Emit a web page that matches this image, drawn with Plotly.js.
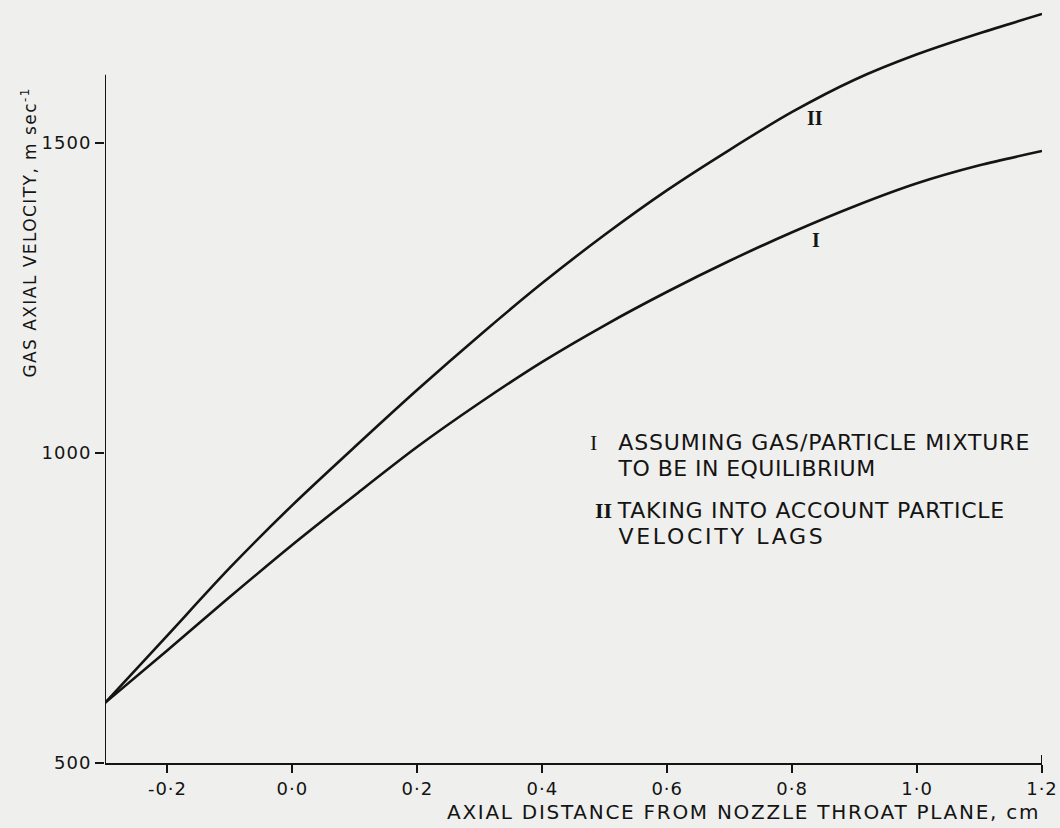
<!DOCTYPE html>
<html>
<head>
<meta charset="utf-8">
<script src="https://cdn.plot.ly/plotly-3.0.1.min.js"></script>
<style>html,body{margin:0;padding:0;background:#efefed;}#chart{width:1060px;height:828px;}</style>
</head>
<body>
<div id="chart"></div>
<script>
// Axial distance from nozzle throat plane, cm
const axialDistance = [-0.3, -0.2, -0.1, 0.0, 0.1, 0.2, 0.3, 0.4, 0.5, 0.6, 0.7, 0.8, 0.9, 1.0, 1.1, 1.2];
// Curve I: gas/particle mixture in equilibrium (m/s)
const velocityEquilibrium = [597, 682, 768, 852, 932, 1010, 1081, 1147, 1206, 1260, 1310, 1356, 1398, 1435, 1464, 1487];
// Curve II: taking into account particle velocity lags (m/s)
const velocityLag = [597, 706, 815, 916, 1010, 1102, 1190, 1274, 1352, 1424, 1489, 1550, 1602, 1643, 1677, 1708];

const xTickVals = [-0.2, 0.0, 0.2, 0.4, 0.6, 0.8, 1.0, 1.2];
const xTickText = ['-0·2', '0·0', '0·2', '0·4', '0·6', '0·8', '1·0', '1·2'];
const yTickVals = [500, 1000, 1500];
const yTickText = ['500', '1000', '1500'];

const curveLabels = ['I', 'II'];
const legendLines = [
  'ASSUMING GAS/PARTICLE MIXTURE',
  'TO BE IN EQUILIBRIUM',
  'TAKING INTO ACCOUNT PARTICLE',
  'VELOCITY LAGS'
];
const xTitle = 'AXIAL DISTANCE FROM NOZZLE THROAT PLANE, cm';
const yTitle = 'GAS AXIAL VELOCITY, m sec<sup>-1</sup>';

const ink = '#141414';
const font = 'DejaVu Sans, Liberation Sans, sans-serif';
const serif = 'Liberation Serif, DejaVu Serif, serif';

const traces = [
  {x: axialDistance, y: velocityEquilibrium, mode: 'lines', line: {color: ink, width: 2.6, shape: 'spline', smoothing: 0.8}, hoverinfo: 'skip'},
  {x: axialDistance, y: velocityLag, mode: 'lines', line: {color: ink, width: 2.6, shape: 'spline', smoothing: 0.8}, hoverinfo: 'skip'}
];

// annotations; 'w' = target rendered width (px) used to set letter spacing
const ann = [
  {xref: 'paper', yref: 'paper', x: 0.6814, y: -0.0642, text: xTitle, font: {family: font, size: 20, color: ink}, w: 593},
  {xref: 'paper', yref: 'paper', x: -0.081, y: 0.6946, textangle: -90, text: yTitle, font: {family: font, size: 17, color: ink}, w: 293},
  {xref: 'x', yref: 'y', x: 0.837, y: 1540, text: '<b>' + curveLabels[1] + '</b>', font: {family: serif, size: 20, color: ink}},
  {xref: 'x', yref: 'y', x: 0.838, y: 1343, text: '<b>' + curveLabels[0] + '</b>', font: {family: serif, size: 20, color: ink}},
  {xref: 'paper', yref: 'paper', x: 0.521, y: 0.4194, text: curveLabels[0], font: {family: serif, size: 22, color: ink}},
  {xref: 'paper', yref: 'paper', x: 0.7673, y: 0.4194, text: legendLines[0], font: {family: font, size: 22, color: ink}, w: 412},
  {xref: 'paper', yref: 'paper', x: 0.6846, y: 0.3866, text: legendLines[1], font: {family: font, size: 22, color: ink}, w: 257},
  {xref: 'paper', yref: 'paper', x: 0.5325, y: 0.3303, text: '<b>' + curveLabels[1] + '</b>', font: {family: serif, size: 22, color: ink}},
  {xref: 'paper', yref: 'paper', x: 0.754, y: 0.3303, text: legendLines[2], font: {family: font, size: 22, color: ink}, w: 387},
  {xref: 'paper', yref: 'paper', x: 0.6580, y: 0.2975, text: legendLines[3], font: {family: font, size: 22, color: ink}, w: 207}
];

const layout = {
  width: 1060, height: 828,
  margin: {l: 105, r: 18, t: 0, b: 65},
  paper_bgcolor: '#efefed', plot_bgcolor: '#efefed',
  showlegend: false,
  font: {family: font, color: ink, size: 16},
  xaxis: {
    range: [-0.3, 1.2], showgrid: false, zeroline: false,
    showline: true, linecolor: ink, linewidth: 2,
    ticks: 'outside', ticklen: 8, tickwidth: 2, tickcolor: ink,
    tickvals: xTickVals, ticktext: xTickText,
    tickfont: {family: font, size: 18, color: ink}
  },
  yaxis: {
    range: [500, 1730.6], showgrid: false, zeroline: false,
    showline: false,
    ticks: 'outside', ticklen: 9, tickwidth: 2, tickcolor: ink,
    tickvals: yTickVals, ticktext: yTickText,
    tickfont: {family: font, size: 18, color: ink}
  },
  shapes: [
    {type: 'line', xref: 'x', yref: 'y', x0: -0.3, x1: -0.3, y0: 500, y1: 1610, line: {color: ink, width: 2}},
    {type: 'line', xref: 'x', yref: 'y', x0: 1.2, x1: 1.2, y0: 500, y1: 513, line: {color: ink, width: 2}}
  ],
  annotations: ann.map(a => ({
    xref: a.xref, yref: a.yref, x: a.x, y: a.y, xanchor: 'center', yanchor: 'middle', align: 'center',
    showarrow: false, text: a.text, font: a.font, textangle: a.textangle || 0
  }))
};

Plotly.newPlot('chart', traces, layout, {displayModeBar: false, staticPlot: true}).then(gd => {
  ann.forEach((a, i) => {
    if (!a.w) return;
    const t = gd.querySelector('.annotation[data-index="' + i + '"] text.annotation-text');
    if (!t) return;
    const len = t.getComputedTextLength();
    const n = t.textContent.length;
    const sp = Math.max(0, (a.w - len) / n);
    t.style.letterSpacing = sp.toFixed(2) + 'px';
  });
  gd.querySelectorAll('.xtick text, .ytick text').forEach(t => { t.style.letterSpacing = '1px'; });
});
</script>
</body>
</html>
